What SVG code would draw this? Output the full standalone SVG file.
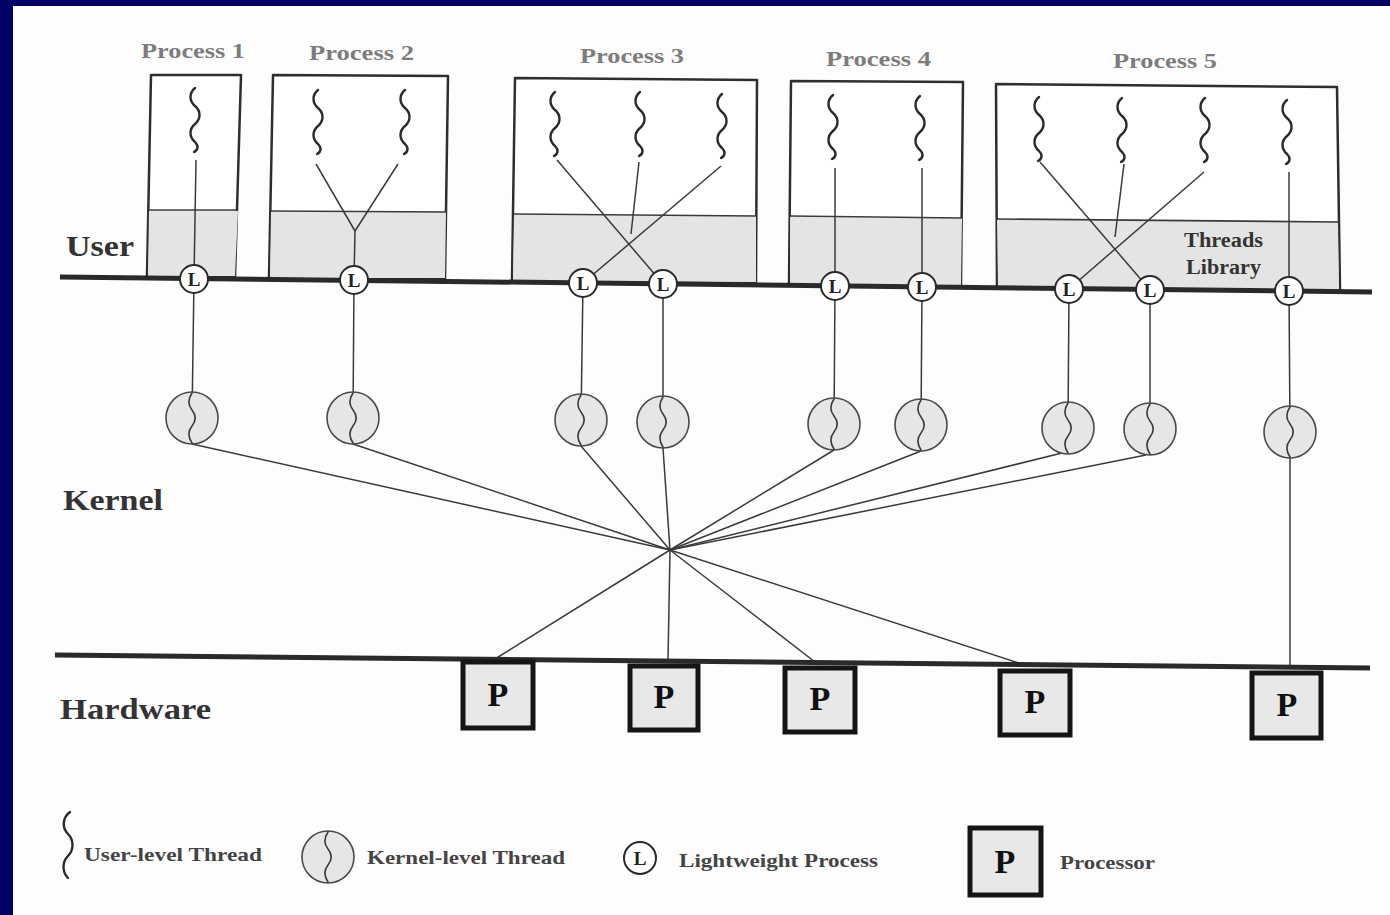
<svg xmlns="http://www.w3.org/2000/svg" xmlns:xlink="http://www.w3.org/1999/xlink" width="1390" height="915" viewBox="0 0 1390 915">
  <style>
    .frame { fill: #000066; }
    .page { fill: #fdfdfd; }
    .proc { fill: #ffffff; stroke: #2e2e2e; stroke-width: 2.5; stroke-linejoin: round; }
    .shade { fill: #e4e4e4; stroke: none; }
    .divider { stroke: #3a3a3a; stroke-width: 1.6; }
    .bus { stroke: #2a2a2a; stroke-width: 5; stroke-linecap: butt; }
    .link { stroke: #3a3a3a; stroke-width: 1.5; fill: none; }
    .uthread { fill: none; stroke: #2a2a2a; stroke-width: 2.4; stroke-linecap: round; }
    .kthread { fill: none; stroke: #3a3a3a; stroke-width: 1.6; stroke-linecap: round; }
    .kcircle { fill: #e6e6e6; stroke: #4a4a4a; stroke-width: 1.6; }
    .lwp { fill: #ffffff; stroke: #2a2a2a; stroke-width: 2; }
    .lwp-t { font-family: "Liberation Serif", serif; font-weight: bold; font-size: 19px; fill: #222; text-anchor: middle; }
    .cpu { fill: #e8e8e8; stroke: #151515; stroke-width: 5; }
    .cpu-t { font-family: "Liberation Serif", serif; font-weight: bold; font-size: 34px; fill: #111; text-anchor: middle; }
    .ptitle { font-family: "Liberation Serif", serif; font-weight: bold; font-size: 22px; fill: #7c7c7c; }
    .layer { font-family: "Liberation Serif", serif; font-weight: bold; font-size: 30px; fill: #333; }
    .lib { font-family: "Liberation Serif", serif; font-weight: bold; font-size: 20px; fill: #333; }
    .legend { font-family: "Liberation Serif", serif; font-weight: bold; font-size: 19px; fill: #444; }
  </style>
  <defs>
    <!-- user-level thread: wavy vertical stroke -->
    <path id="ut" class="uthread" d="M0,0 C-6,5 -6,13 0,18 C6,23 6,31 0,36 C-6,41 -6,49 0,54 C4,58 3,62 -1,64"/>
    <!-- kernel-level thread: circle with a small wave inside -->
    <g id="kt">
      <circle class="kcircle" r="26"/>
      <path class="kthread" d="M0,-25 C-4,-19 -4,-13 0,-8 C4,-3 4,3 0,8 C-4,13 -4,19 0,25"/>
    </g>
  </defs>

  <!-- page and frame -->
  <rect class="frame" x="0" y="0" width="1390" height="915"/>
  <rect class="page" x="13" y="6" width="1377" height="909"/>

  <!-- layer labels -->
  <text class="layer" x="66" y="256" textLength="68" lengthAdjust="spacingAndGlyphs">User</text>
  <text class="layer" x="63" y="510" textLength="100" lengthAdjust="spacingAndGlyphs">Kernel</text>
  <text class="layer" x="60" y="719" textLength="151" lengthAdjust="spacingAndGlyphs">Hardware</text>

  <!-- process boxes -->
  <g id="process1">
    <text class="ptitle" x="141" y="58" textLength="104" lengthAdjust="spacingAndGlyphs">Process 1</text>
    <polygon class="proc" points="151,75 241,75 235,277 147,276"/>
    <polygon class="shade" points="149,211 238,211 235,276 148,276"/>
    <line class="divider" x1="149" y1="210" x2="238" y2="210"/>
    <use xlink:href="#ut" x="195" y="88"/>
  </g>
  <g id="process2">
    <text class="ptitle" x="309" y="60" textLength="105" lengthAdjust="spacingAndGlyphs">Process 2</text>
    <polygon class="proc" points="273,75 448,76 445,279 269,278"/>
    <polygon class="shade" points="271,212 446,212 445,278 270,278"/>
    <line class="divider" x1="271" y1="211" x2="446" y2="212"/>
    <use xlink:href="#ut" x="318" y="90"/>
    <use xlink:href="#ut" x="405" y="90"/>
  </g>
  <g id="process3">
    <text class="ptitle" x="580" y="63" textLength="104" lengthAdjust="spacingAndGlyphs">Process 3</text>
    <polygon class="proc" points="515,78 757,80 756,282 512,281"/>
    <polygon class="shade" points="514,215 756,216 756,282 513,281"/>
    <line class="divider" x1="514" y1="214" x2="756" y2="216"/>
    <use xlink:href="#ut" x="555" y="92"/>
    <use xlink:href="#ut" x="640" y="92"/>
    <use xlink:href="#ut" x="722" y="94"/>
  </g>
  <g id="process4">
    <text class="ptitle" x="826" y="66" textLength="105" lengthAdjust="spacingAndGlyphs">Process 4</text>
    <polygon class="proc" points="791,81 963,82 961,285 789,285"/>
    <polygon class="shade" points="790,217 962,218 961,285 790,285"/>
    <line class="divider" x1="790" y1="216" x2="962" y2="218"/>
    <use xlink:href="#ut" x="833" y="95"/>
    <use xlink:href="#ut" x="920" y="96"/>
  </g>
  <g id="process5">
    <text class="ptitle" x="1113" y="68" textLength="104" lengthAdjust="spacingAndGlyphs">Process 5</text>
    <polygon class="proc" points="996,84 1337,87 1340,290 997,288"/>
    <polygon class="shade" points="997,220 1338,222 1339,290 998,288"/>
    <line class="divider" x1="997" y1="219" x2="1338" y2="222"/>
    <use xlink:href="#ut" x="1039" y="97"/>
    <use xlink:href="#ut" x="1122" y="98"/>
    <use xlink:href="#ut" x="1205" y="98"/>
    <use xlink:href="#ut" x="1287" y="100"/>
    <text class="lib" x="1184" y="247" textLength="79" lengthAdjust="spacingAndGlyphs">Threads</text>
    <text class="lib" x="1186" y="274" textLength="75" lengthAdjust="spacingAndGlyphs">Library</text>
  </g>

  <!-- connectors -->
  <g id="connectors">
    <!-- user threads to lightweight processes -->
    <line class="link" x1="196" y1="160" x2="194" y2="279"/>
    <line class="link" x1="316" y1="164" x2="355" y2="231"/>
    <line class="link" x1="398" y1="164" x2="355" y2="231"/>
    <line class="link" x1="355" y1="231" x2="354" y2="280"/>
    <line class="link" x1="557" y1="160" x2="663" y2="284"/>
    <line class="link" x1="639" y1="162" x2="631" y2="234"/>
    <line class="link" x1="721" y1="166" x2="583" y2="283"/>
    <line class="link" x1="835" y1="168" x2="835" y2="286"/>
    <line class="link" x1="922" y1="168" x2="922" y2="287"/>
    <line class="link" x1="1040" y1="162" x2="1150" y2="290"/>
    <line class="link" x1="1124" y1="164" x2="1115" y2="237"/>
    <line class="link" x1="1204" y1="172" x2="1069" y2="289"/>
    <line class="link" x1="1289" y1="172" x2="1289" y2="291"/>

    <!-- lightweight processes to kernel threads -->
    <line class="link" x1="194" y1="279" x2="192" y2="418"/>
    <line class="link" x1="354" y1="280" x2="353" y2="418"/>
    <line class="link" x1="583" y1="283" x2="581" y2="420"/>
    <line class="link" x1="663" y1="284" x2="663" y2="422"/>
    <line class="link" x1="835" y1="286" x2="834" y2="424"/>
    <line class="link" x1="922" y1="287" x2="921" y2="425"/>
    <line class="link" x1="1069" y1="289" x2="1068" y2="428"/>
    <line class="link" x1="1150" y1="290" x2="1150" y2="429"/>
    <line class="link" x1="1289" y1="291" x2="1290" y2="432"/>

    <!-- kernel threads to the scheduler hub -->
    <line class="link" x1="192" y1="444" x2="670" y2="550"/>
    <line class="link" x1="353" y1="444" x2="670" y2="550"/>
    <line class="link" x1="581" y1="446" x2="670" y2="550"/>
    <line class="link" x1="663" y1="448" x2="670" y2="550"/>
    <line class="link" x1="834" y1="450" x2="670" y2="550"/>
    <line class="link" x1="921" y1="451" x2="670" y2="550"/>
    <line class="link" x1="1062" y1="453" x2="670" y2="550"/>
    <line class="link" x1="1146" y1="455" x2="670" y2="550"/>

    <!-- hub to processors -->
    <line class="link" x1="670" y1="550" x2="495" y2="659"/>
    <line class="link" x1="670" y1="550" x2="668" y2="661"/>
    <line class="link" x1="670" y1="550" x2="815" y2="662"/>
    <line class="link" x1="670" y1="550" x2="1025" y2="665"/>
    <line class="link" x1="1290" y1="458" x2="1290" y2="668"/>
  </g>

  <!-- user / kernel boundary and hardware bus -->
  <line class="bus" x1="60" y1="277" x2="1372" y2="292"/>
  <line class="bus" x1="55" y1="655" x2="1370" y2="668"/>

  <!-- lightweight processes -->
  <g id="lwp1"><circle class="lwp" cx="194" cy="279" r="14"/><text class="lwp-t" x="194" y="286">L</text></g>
  <g id="lwp2"><circle class="lwp" cx="354" cy="280" r="14"/><text class="lwp-t" x="354" y="287">L</text></g>
  <g id="lwp3"><circle class="lwp" cx="583" cy="283" r="14"/><text class="lwp-t" x="583" y="290">L</text></g>
  <g id="lwp4"><circle class="lwp" cx="663" cy="284" r="14"/><text class="lwp-t" x="663" y="291">L</text></g>
  <g id="lwp5"><circle class="lwp" cx="835" cy="286" r="14"/><text class="lwp-t" x="835" y="293">L</text></g>
  <g id="lwp6"><circle class="lwp" cx="922" cy="287" r="14"/><text class="lwp-t" x="922" y="294">L</text></g>
  <g id="lwp7"><circle class="lwp" cx="1069" cy="289" r="14"/><text class="lwp-t" x="1069" y="296">L</text></g>
  <g id="lwp8"><circle class="lwp" cx="1150" cy="290" r="14"/><text class="lwp-t" x="1150" y="297">L</text></g>
  <g id="lwp9"><circle class="lwp" cx="1289" cy="291" r="14"/><text class="lwp-t" x="1289" y="298">L</text></g>

  <!-- kernel-level threads -->
  <g id="kthread1"><use xlink:href="#kt" x="192" y="418"/></g>
  <g id="kthread2"><use xlink:href="#kt" x="353" y="418"/></g>
  <g id="kthread3"><use xlink:href="#kt" x="581" y="420"/></g>
  <g id="kthread4"><use xlink:href="#kt" x="663" y="422"/></g>
  <g id="kthread5"><use xlink:href="#kt" x="834" y="424"/></g>
  <g id="kthread6"><use xlink:href="#kt" x="921" y="425"/></g>
  <g id="kthread7"><use xlink:href="#kt" x="1068" y="428"/></g>
  <g id="kthread8"><use xlink:href="#kt" x="1150" y="429"/></g>
  <g id="kthread9"><use xlink:href="#kt" x="1290" y="432"/></g>

  <!-- processors -->
  <g id="cpu1"><rect class="cpu" x="463" y="662" width="70" height="66"/><text class="cpu-t" x="498" y="706">P</text></g>
  <g id="cpu2"><rect class="cpu" x="630" y="666" width="68" height="64"/><text class="cpu-t" x="664" y="708">P</text></g>
  <g id="cpu3"><rect class="cpu" x="785" y="668" width="70" height="64"/><text class="cpu-t" x="820" y="710">P</text></g>
  <g id="cpu4"><rect class="cpu" x="1000" y="671" width="70" height="64"/><text class="cpu-t" x="1035" y="713">P</text></g>
  <g id="cpu5"><rect class="cpu" x="1252" y="673" width="69" height="65"/><text class="cpu-t" x="1287" y="716">P</text></g>

  <!-- legend -->
  <g id="legend">
    <path class="uthread" d="M70,812 C62,818 62,828 68,834 C74,840 74,850 68,856 C62,862 62,872 68,878"/>
    <text class="legend" x="84" y="861" textLength="178" lengthAdjust="spacingAndGlyphs">User-level Thread</text>
    <use xlink:href="#kt" x="328" y="857"/>
    <text class="legend" x="367" y="864" textLength="198" lengthAdjust="spacingAndGlyphs">Kernel-level Thread</text>
    <circle class="lwp" cx="640" cy="858" r="16"/>
    <text class="lwp-t" x="640" y="865">L</text>
    <text class="legend" x="679" y="867" textLength="199" lengthAdjust="spacingAndGlyphs">Lightweight Process</text>
    <rect class="cpu" x="970" y="828" width="71" height="67"/>
    <text class="cpu-t" x="1005" y="873">P</text>
    <text class="legend" x="1060" y="869" textLength="95" lengthAdjust="spacingAndGlyphs">Processor</text>
  </g>
</svg>
